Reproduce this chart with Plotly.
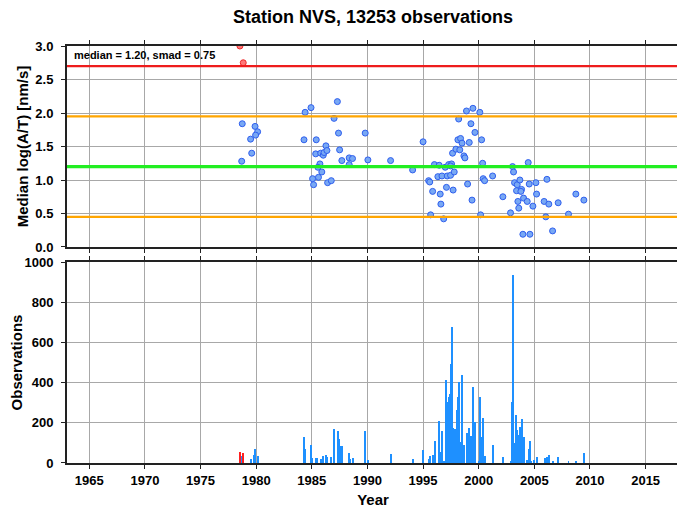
import plotly.graph_objects as go

title_text = "Station NVS, 13253 observations"
median = 1.20
smad = 0.75

# Top panel: median log(A/T) per event
blue_years = [1978.75, 1979.9, 1980.13, 1979.95, 1979.5, 1979.6, 1978.7,
              1984.4, 1984.93, 1987.3, 1987.0, 1984.3, 1985.4, 1987.4, 1989.8,
              1986.27, 1985.35, 1985.8, 1986.03, 1986.1, 1986.36, 1987.5, 1988.36,
              1988.66, 1987.7, 1988.36, 1990.04, 1992.08, 1985.73, 1985.55, 1985.9,
              1985.6, 1985.07, 1985.16, 1986.42, 1986.75, 1994.06, 1995.0, 1995.5,
              1995.6, 1995.86, 1995.68, 1996.85, 1996.54, 1996.6, 1997.1, 1997.7,
              1996.02, 1996.45, 1996.33, 1996.7, 1997.17, 1997.47, 1997.8, 1996.99,
              1997.3, 1997.56, 1997.47, 1997.65, 1997.95, 1998.13, 1998.2, 1998.3,
              1998.37, 1998.5, 1998.67, 1998.76, 1998.9, 1999.48, 2000.1, 1999.3,
              1999.66, 1999.15, 2000.26, 2000.35, 1999.0, 1999.4, 2000.17, 2000.4,
              2000.53, 2001.25, 2002.17, 2002.86, 2003.04, 2003.13, 2004.45, 2003.22,
              2003.46, 2003.7, 2003.4, 2003.85, 2003.79, 2004.54, 2005.14, 2006.13,
              2003.52, 2003.6, 2004.03, 2004.36, 2004.87, 2005.2, 2005.88, 2006.3,
              2007.14, 2006.03, 2008.07, 2008.73, 2009.45, 2003.97, 2004.6, 2006.64]
blue_values = [1.84, 1.80, 1.72, 1.67, 1.61, 1.40, 1.28,
               2.01, 2.08, 2.17, 1.92, 1.60, 1.60, 1.70, 1.70,
               1.51, 1.39, 1.40, 1.37, 1.41, 1.44, 1.45, 1.33,
               1.32, 1.29, 1.23, 1.30, 1.29, 1.24, 1.19, 1.12,
               1.04, 1.02, 0.93, 0.96, 0.99, 1.15, 1.57, 0.99,
               0.97, 0.83, 0.48, 0.42, 0.79, 0.64, 0.89, 0.85,
               1.23, 1.22, 1.05, 1.06, 1.06, 1.07, 1.12, 1.19,
               1.23, 1.24, 1.21, 1.40, 1.46, 1.60, 1.91, 1.45,
               1.62, 1.55, 1.36, 1.33, 2.03, 2.07, 2.01, 1.84,
               1.71, 1.56, 1.60, 1.25, 0.94, 0.70, 0.48, 1.02,
               0.99, 1.06, 0.75, 0.51, 1.20, 1.12, 1.26, 0.96,
               0.93, 1.00, 0.84, 0.86, 0.83, 0.94, 0.96, 1.01,
               0.68, 0.58, 0.73, 0.68, 0.61, 0.79, 0.68, 0.64,
               0.66, 0.45, 0.49, 0.79, 0.70, 0.19, 0.19, 0.24]
red_years = [1978.54, 1978.84]
red_values = [3.0, 2.75]

# Bottom panel: observations per month
obs_years = [1978.75, 1979.5, 1979.83, 1979.92, 1980.16, 1984.32, 1984.41, 1984.90,
             1985.01, 1985.37, 1985.46, 1985.79, 1986.03, 1986.24, 1986.33, 1986.75,
             1987.02, 1987.32, 1987.41, 1987.53, 1987.68, 1988.36, 1988.45, 1988.70,
             1989.80, 1990.02, 1992.08, 1994.09, 1995.01, 1995.52, 1995.61, 1995.86,
             1996.04, 1996.40, 1996.49, 1996.58, 1996.69, 1996.87, 1997.03, 1997.17,
             1997.29, 1997.41, 1997.53, 1997.62, 1997.71, 1997.83, 1998.01, 1998.13,
             1998.22, 1998.37, 1998.46, 1998.58, 1998.70, 1998.91, 1999.03, 1999.15,
             1999.30, 1999.48, 1999.66, 1999.99, 2000.11, 2000.26, 2000.35, 2000.53,
             2001.25, 2002.17, 2002.87, 2003.01, 2003.10, 2003.19, 2003.37, 2003.46,
             2003.58, 2003.70, 2003.85, 2004.03, 2004.30, 2004.48, 2004.57, 2004.66,
             2004.99, 2005.20, 2005.92, 2006.04, 2006.15, 2006.31, 2006.64, 2007.14,
             2008.07, 2008.73, 2009.45]
obs_counts = [35, 20, 40, 72, 37, 130, 70, 88,
              23, 23, 23, 22, 35, 38, 30, 30,
              170, 157, 120, 87, 87, 50, 20, 23,
              160, 15, 45, 18, 65, 20, 37, 40,
              111, 210, 48, 53, 160, 10, 413, 305,
              327, 342, 493, 675, 176, 168, 264, 330,
              403, 106, 438, 81, 90, 148, 40, 176,
              134, 380, 203, 12, 327, 128, 222, 35,
              88, 32, 10, 305, 935, 100, 240, 165,
              141, 181, 219, 131, 15, 68, 110, 12,
              15, 32, 25, 20, 32, 40, 10, 32,
              8, 8, 48]
red_obs_years = [1978.54, 1978.84]
red_obs_counts = [55, 50]

x_range = [1963, 2018]
x_ticks = [1965, 1970, 1975, 1980, 1985, 1990, 1995, 2000, 2005, 2010, 2015]
top_ticks = [0.0, 0.5, 1.0, 1.5, 2.0, 2.5, 3.0]
bottom_ticks = [0, 200, 400, 600, 800, 1000]

FONT = "Liberation Sans"
grid_col = "#a8a8a8"
line_col = "#222222"

# the page body adds an 8 px offset; figure size/margins compensate for it
FIG_W, FIG_H = 677, 503

fig = go.Figure()

fig.add_trace(go.Bar(x=obs_years, y=obs_counts, width=0.085, marker_color="#1e90ff",
                     marker_line_width=0, xaxis="x", yaxis="y", showlegend=False))
fig.add_trace(go.Bar(x=red_obs_years, y=red_obs_counts, width=0.085, marker_color="#ff2020",
                     marker_line_width=0, xaxis="x", yaxis="y", showlegend=False))

fig.add_trace(go.Scatter(x=blue_years, y=blue_values, mode="markers", xaxis="x2", yaxis="y2",
                         marker=dict(size=6, color="#78a8f4", line=dict(color="#2f5fee", width=1)),
                         showlegend=False))
fig.add_trace(go.Scatter(x=red_years, y=red_values, mode="markers", xaxis="x2", yaxis="y2",
                         marker=dict(size=6, color="#ff7878", line=dict(color="#ee2a2a", width=1)),
                         showlegend=False))

lines = [(median + 2 * smad, "#ee1c1c", 2.2),
         (median + smad, "#ffa500", 2.2),
         (median, "#22ee22", 3.2),
         (median - smad, "#ffa500", 2.2)]
for yv, col, w in lines:
    fig.add_shape(type="line", xref="x2 domain", yref="y2", x0=0, x1=1, y0=yv, y1=yv,
                  line=dict(color=col, width=w), layer="above")

axis_common = dict(showline=True, linecolor=line_col, linewidth=2, mirror="ticks",
                   ticks="outside", ticklen=4, tickcolor=line_col, tickwidth=1,
                   showgrid=True, gridcolor=grid_col, gridwidth=1, zeroline=False,
                   automargin=False,
                   tickfont=dict(family=FONT, size=13, color="black", weight="bold"))

fig.update_layout(
    width=FIG_W, height=FIG_H,
    margin=dict(l=59, r=6, t=38, b=48, autoexpand=False),
    paper_bgcolor="white", plot_bgcolor="white",
    bargap=0, barmode="overlay",
    title=dict(text=title_text, x=0.5, xref="paper", xanchor="center",
               y=1 - 2 / FIG_H, yref="container", yanchor="top", automargin=False,
               pad=dict(t=0, b=0),
               font=dict(family=FONT, size=18, color="black", weight="bold")),
    xaxis=dict(domain=[0, 1], anchor="y", range=x_range, tickvals=x_ticks,
               ticklabelstandoff=0,
               title=dict(text="Year", font=dict(family=FONT, size=15, color="black", weight="bold"),
                          standoff=8),
               **axis_common),
    yaxis=dict(domain=[0, 0.482], anchor="x", range=[0, 1000], tickvals=bottom_ticks,
               ticklabelstandoff=5,
               title=dict(text="Observations", font=dict(family=FONT, size=15, color="black", weight="bold"),
                          standoff=3),
               **axis_common),
    xaxis2=dict(domain=[0, 1], anchor="y2", range=x_range, tickvals=x_ticks,
                showticklabels=False, matches="x", **axis_common),
    yaxis2=dict(domain=[0.518, 1], anchor="x2", range=[0, 3], tickvals=top_ticks,
                tickformat=".1f", ticklabelstandoff=5,
                title=dict(text="Median log(A/T) [nm/s]",
                           font=dict(family=FONT, size=15, color="black", weight="bold"),
                           standoff=3),
                **axis_common),
    annotations=[dict(text=f"median = {median:.2f}, smad = {smad:.2f}",
                      xref="x2 domain", yref="y2 domain", x=0.008, y=0.997,
                      xanchor="left", yanchor="top", showarrow=False,
                      font=dict(family=FONT, size=11, color="black", weight="bold"))],
)

fig.write_html("out.html")
